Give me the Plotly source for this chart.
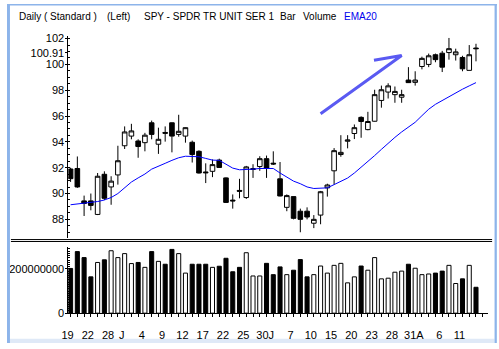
import plotly.graph_objects as go

# Daily SPY bars: open / high / low / close
opens = [91.90, 91.94, 89.43, 89.43, 88.38, 91.49, 90.51, 91.44, 93.70, 94.45,
         94.07, 93.94, 95.48, 93.82, 94.73, 95.48, 94.58, 94.45, 93.97, 93.27,
         91.67, 91.72, 92.59, 91.21, 89.49, 90.24, 89.69, 91.86, 92.09, 92.70,
         92.35, 91.14, 88.93, 89.76, 88.63, 88.63, 87.70, 88.33, 90.44, 91.76,
         93.02, 94.05, 94.65, 95.90, 94.95, 95.60, 97.21, 97.86, 97.66, 97.46,
         98.79, 98.61, 99.84, 100.00, 100.75, 100.87, 100.92, 100.75, 100.54, 99.54,
         101.27]
highs = [92.00, 92.87, 89.84, 90.00, 91.59, 91.72, 91.34, 93.70, 95.20, 95.40,
         94.20, 94.70, 95.65, 95.10, 95.20, 95.50, 96.10, 95.12, 94.10, 93.35,
         92.34, 92.64, 92.70, 91.25, 89.93, 91.14, 92.14, 92.27, 92.89, 92.94,
         93.27, 92.44, 89.93, 89.76, 88.83, 88.93, 88.33, 90.20, 90.76, 93.52,
         94.52, 94.52, 95.35, 95.98, 96.33, 98.04, 98.36, 98.54, 98.29, 98.04,
         99.79, 99.47, 100.60, 100.84, 100.84, 101.05, 102.05, 101.22, 100.67, 101.50,
         101.60]
lows = [90.90, 90.44, 88.26, 88.70, 88.33, 89.50, 89.13, 90.69, 93.45, 94.20,
        92.77, 93.27, 94.20, 93.07, 94.02, 93.19, 94.40, 93.94, 92.40, 91.55,
        90.81, 91.27, 92.00, 89.28, 88.83, 89.63, 89.58, 91.21, 91.76, 91.21,
        92.21, 89.78, 88.63, 88.00, 87.00, 88.00, 87.32, 87.62, 89.76, 90.69,
        92.85, 93.50, 94.22, 94.32, 94.90, 95.58, 96.65, 97.36, 97.03, 97.03,
        98.57, 98.36, 99.62, 99.79, 100.17, 99.41, 100.37, 100.30, 99.47, 99.54,
        100.24]
closes = [91.15, 90.51, 89.23, 89.08, 91.34, 89.63, 90.96, 92.54, 94.77, 94.85,
          93.64, 94.52, 94.58, 94.20, 94.67, 94.45, 94.82, 95.10, 93.02, 91.59,
          91.61, 92.24, 92.02, 89.31, 89.43, 90.18, 92.06, 91.92, 92.70, 91.97,
          92.29, 89.81, 89.84, 88.08, 88.00, 88.18, 88.00, 90.14, 90.66, 93.32,
          93.19, 94.15, 95.10, 95.58, 95.58, 97.66, 98.04, 98.34, 97.91, 97.66,
          98.59, 98.79, 100.47, 100.67, 100.37, 99.79, 101.22, 100.97, 99.66, 100.75,
          101.22]

# 20-day exponential moving average of the close
ema20 = [89.13, 89.18, 89.26, 89.33, 89.38, 89.50, 89.69, 90.00, 90.44, 90.89,
         91.21, 91.51, 91.89, 92.14, 92.34, 92.57, 92.77, 92.89, 92.89, 92.85,
         92.72, 92.59, 92.57, 92.27, 91.97, 91.84, 91.84, 91.89, 91.94, 91.94,
         91.94, 91.59, 91.27, 90.96, 90.76, 90.51, 90.39, 90.39, 90.44, 90.69,
         90.93, 91.20, 91.59, 92.02, 92.44, 92.94, 93.42, 93.90, 94.35, 94.77,
         95.15, 95.52, 96.03, 96.53, 96.91, 97.21, 97.53, 97.83, 98.08, 98.34,
         98.59]

# Daily volume, millions of shares
volume_mil = [202, 278, 251, 164, 229, 241, 282, 251, 269, 224,
              229, 207, 278, 234, 221, 288, 269, 181, 221, 221,
              221, 207, 212, 248, 187, 207, 273, 168, 168, 225,
              174, 209, 174, 194, 242, 164, 174, 213, 181, 216,
              225, 137, 164, 213, 194, 251, 155, 158, 185, 190,
              221, 203, 174, 177, 181, 190, 216, 134, 155, 216,
              117]

# Date axis: label positions (bar index), label text, month boundaries
tick_pos = [0, 3, 6, 8, 11, 14, 17, 20, 23, 26, 29.25, 33, 36, 39, 42, 45, 48, 51.25, 55, 58]
tick_text = ["19", "22", "28", "J", "4", "9", "12", "17", "22", "25", "30J",
             "7", "10", "15", "20", "23", "28", "31A", "6", "11"]
month_starts = [8, 30, 52]

# Price axis labels (100.91 marks the current price)
price_ticks = [88, 90, 92, 94, 96, 98, 100, 100.91, 102]
vol_ticks = [0, 200000000]
vol_tick_text = ["0", "200000000"]

# Hand-drawn trend arrow (bar index, price)
trend_arrow_x = [37.0, 49.0, 44.9]
trend_arrow_y = [96.18, 100.69, 100.32]

W, H = 499, 349


def fx(p):
    return p / W


def fy(p):
    return 1 - p / H


x = list(range(len(closes)))
volumes = [v * 1e6 for v in volume_mil]
vol_colors = ["white" if c >= o else "black" for o, c in zip(opens, closes)]

fig = go.Figure()

fig.add_trace(go.Candlestick(
    x=x, open=opens, high=highs, low=lows, close=closes,
    increasing=dict(line=dict(color="black", width=1), fillcolor="white"),
    decreasing=dict(line=dict(color="black", width=1), fillcolor="black"),
    whiskerwidth=0, xaxis="x", yaxis="y", hoverinfo="skip",
))
fig.add_trace(go.Scatter(
    x=x, y=ema20, mode="lines", line=dict(color="#0000ff", width=1),
    xaxis="x", yaxis="y", hoverinfo="skip",
))
fig.add_trace(go.Scatter(
    x=trend_arrow_x, y=trend_arrow_y, mode="lines",
    line=dict(color="#5a5af2", width=3), xaxis="x", yaxis="y", hoverinfo="skip",
))
fig.add_trace(go.Bar(
    x=x, y=volumes, width=0.6,
    marker=dict(color=vol_colors, line=dict(color="black", width=1)),
    xaxis="x2", yaxis="y2", hoverinfo="skip",
))

x_dom = [fx(62.3), fx(488)]
x_rng = [-0.32, 61.8]
price_rng = [86.548, 102.198]
vol_rng = [0, 299.6e6]

fig.update_layout(
    width=W, height=H,
    margin=dict(l=0, r=0, t=0, b=0),
    paper_bgcolor="white", plot_bgcolor="white",
    showlegend=False,
    boxgap=0.2, boxgroupgap=0.15,
    font=dict(family="Liberation Sans, Arial, sans-serif", size=11, color="black"),
    xaxis=dict(
        domain=x_dom, range=x_rng, anchor="y",
        showticklabels=False, ticks="", showline=False, showgrid=False,
        zeroline=False, rangeslider=dict(visible=False),
    ),
    xaxis2=dict(
        domain=x_dom, range=x_rng, anchor="y2", matches="x",
        tickmode="array", tickvals=tick_pos, ticktext=tick_text, tickangle=0,
        ticks="", ticklabelshift=-3,
        minor=dict(ticks="outside", ticklen=3, dtick=1, tick0=0, tickcolor="black"),
        showline=True, linecolor="black", linewidth=1,
        showgrid=False, zeroline=False, ticklabelstandoff=12,
    ),
    xaxis3=dict(
        domain=x_dom, range=x_rng, anchor="y2", overlaying="x2", matches="x",
        tickmode="array", tickvals=month_starts, ticks="outside", ticklen=8,
        tickcolor="black", showticklabels=False, showline=False,
        showgrid=False, zeroline=False,
    ),
    yaxis=dict(
        domain=[fy(241), fy(33)], range=price_rng, anchor="x",
        tickmode="array", tickvals=price_ticks,
        ticktext=[("%g" % v) for v in price_ticks],
        ticks="outside", ticklen=2, tickcolor="black", ticklabelstandoff=-1,
        minor=dict(ticks="inside", ticklen=2, dtick=0.5, tick0=0, tickcolor="black"),
        showline=True, linecolor="black", linewidth=1,
        showgrid=False, zeroline=False,
    ),
    yaxis2=dict(
        domain=[fy(318.3), fy(250)], range=vol_rng, anchor="x2",
        tickmode="array", tickvals=vol_ticks, ticktext=vol_tick_text,
        ticks="outside", ticklen=2, tickcolor="black", ticklabelstandoff=-1,
        minor=dict(ticks="inside", ticklen=2, dtick=1e7, tick0=0, tickcolor="black"),
        showline=True, linecolor="black", linewidth=1,
        showgrid=False, zeroline=False,
    ),
)

# window frame and panel separator
frame = "#8db4ea"
shapes = [
    dict(type="rect", xref="paper", yref="paper", x0=fx(3), x1=fx(494.5), y0=0, y1=fy(344.5),
         fillcolor="#dfe9f7", line=dict(width=0), layer="below"),
    dict(type="rect", xref="paper", yref="paper", x0=0, x1=fx(3), y0=0, y1=1,
         fillcolor=frame, line=dict(width=0), layer="above"),
    dict(type="rect", xref="paper", yref="paper", x0=0, x1=fx(497), y0=fy(1.5), y1=1,
         fillcolor=frame, line=dict(width=0), layer="above"),
    dict(type="rect", xref="paper", yref="paper", x0=fx(494.5), x1=fx(496.8), y0=0, y1=1,
         fillcolor=frame, line=dict(width=0), layer="above"),
    dict(type="line", xref="paper", yref="paper", x0=fx(4), x1=fx(492), y0=fy(242.5), y1=fy(242.5),
         line=dict(color="black", width=1)),
    dict(type="line", xref="paper", yref="paper", x0=fx(4), x1=fx(492), y0=fy(244.5), y1=fy(244.5),
         line=dict(color="black", width=1)),
]
fig.update_layout(shapes=shapes)

# header line
header = [
    ("Daily ( Standard )", 11, "black"),
    ("(Left)", 100, "black"),
    ("SPY - SPDR TR UNIT SER 1", 138, "black"),
    ("Bar", 276, "black"),
    ("Volume", 299, "black"),
    ("EMA20", 341, "#0000ee"),
]
for text, xp, col in header:
    fig.add_annotation(
        text=text, x=fx(xp), y=fy(13), xref="paper", yref="paper",
        xanchor="left", yanchor="middle", showarrow=False,
        font=dict(size=10, color=col), borderpad=0,
    )

fig.write_html("out.html")
